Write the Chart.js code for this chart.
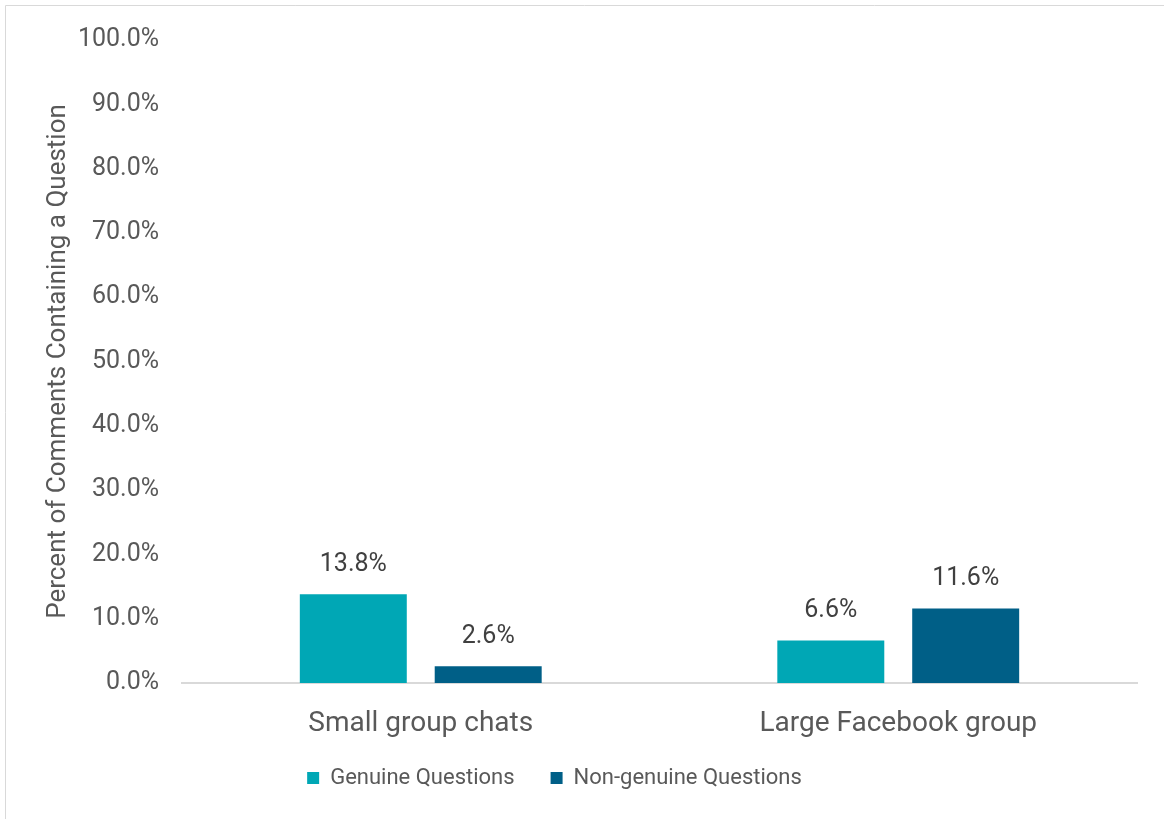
<!DOCTYPE html>
<html>
<head>
<meta charset="utf-8">
<script src="https://cdn.jsdelivr.net/npm/chart.js@4.4.1/dist/chart.umd.min.js"></script>
<style>
  html, body { margin: 0; padding: 0; background: #fff; }
  #wrap { position: absolute; left: 0; top: 0; width: 1164px; height: 819px; }
</style>
</head>
<body>
<div id="wrap"><canvas id="chart" width="1164" height="819"></canvas></div>
<script>
// data
var categories = ["Small group chats", "Large Facebook group"];
var genuine = [13.8, 6.6];
var nonGenuine = [2.6, 11.6];
var yTicks = [0, 10, 20, 30, 40, 50, 60, 70, 80, 90, 100];

var FONT = "Roboto";
var GRAY = "#595959";

// light frame round the chart, like the spreadsheet chart area
var framePlugin = {
    id: "frame",
    beforeDraw: function(chart) {
        var ctx = chart.ctx;
        ctx.save();
        ctx.strokeStyle = "#d9d9d9";
        ctx.lineWidth = 1;
        ctx.beginPath();
        ctx.moveTo(5.5, 819);
        ctx.lineTo(5.5, 5.5);
        ctx.lineTo(1164, 5.5);
        ctx.stroke();
        ctx.restore();
    },
    // legend in the original sits left of the plot centre and close under the labels
    afterLayout: function(chart) {
        if (chart.legend) {
            chart.legend.right = 1061;
            chart.legend.top -= 14;
        }
    }
};

// value labels above each bar
var valueLabels = {
    id: "valueLabels",
    afterDatasetsDraw: function(chart) {
        var ctx = chart.ctx;
        ctx.save();
        ctx.font = "25px " + FONT;
        ctx.fillStyle = "#404040";
        ctx.textAlign = "center";
        ctx.textBaseline = "middle";
        chart.data.datasets.forEach(function(ds, i) {
            chart.getDatasetMeta(i).data.forEach(function(bar, j) {
                ctx.fillText(ds.data[j].toFixed(1) + "%", bar.x, bar.y - 30);
            });
        });
        ctx.restore();
    }
};

var ctx = document.getElementById("chart").getContext("2d");
var chart = new Chart(ctx, {
    type: "bar",
    data: {
        labels: categories,
        datasets: [
            {
                label: "Genuine Questions",
                data: genuine,
                backgroundColor: "#00a7b5"
            },
            {
                label: "Non-genuine Questions",
                data: nonGenuine,
                backgroundColor: "#005f87"
            }
        ]
    },
    options: {
        responsive: false,
        animation: false,
        categoryPercentage: 0.565,
        barPercentage: 0.793,
        layout: { padding: { left: 48, right: 27, top: 40, bottom: 6 } },
        plugins: {
            legend: {
                position: "bottom",
                labels: {
                    font: { family: FONT, size: 22 },
                    color: GRAY,
                    boxWidth: 12,
                    boxHeight: 12,
                    padding: 36
                }
            },
            tooltip: { enabled: false }
        },
        scales: {
            x: {
                grid: { display: false, drawTicks: false },
                border: { color: "#d9d9d9", width: 2 },
                ticks: { font: { family: FONT, size: 28 }, color: GRAY, padding: 24 },
                afterFit: function(s) { s.height = 62; }
            },
            y: {
                min: 0,
                max: 100,
                grid: { display: false, drawTicks: false },
                border: { display: false },
                afterBuildTicks: function(s) {
                    s.ticks = yTicks.map(function(v) { return { value: v }; });
                },
                ticks: {
                    font: { family: FONT, size: 25 },
                    color: GRAY,
                    padding: 23,
                    callback: function(v) { return v.toFixed(1) + "%"; }
                },
                title: {
                    display: true,
                    text: "Percent of Comments Containing a Question",
                    font: { family: FONT, size: 26 },
                    color: GRAY,
                    padding: { top: -5, bottom: 0 }
                },
                afterFit: function(s) { s.width = 134; }
            }
        }
    },
    plugins: [framePlugin, valueLabels]
});
</script>
</body>
</html>
